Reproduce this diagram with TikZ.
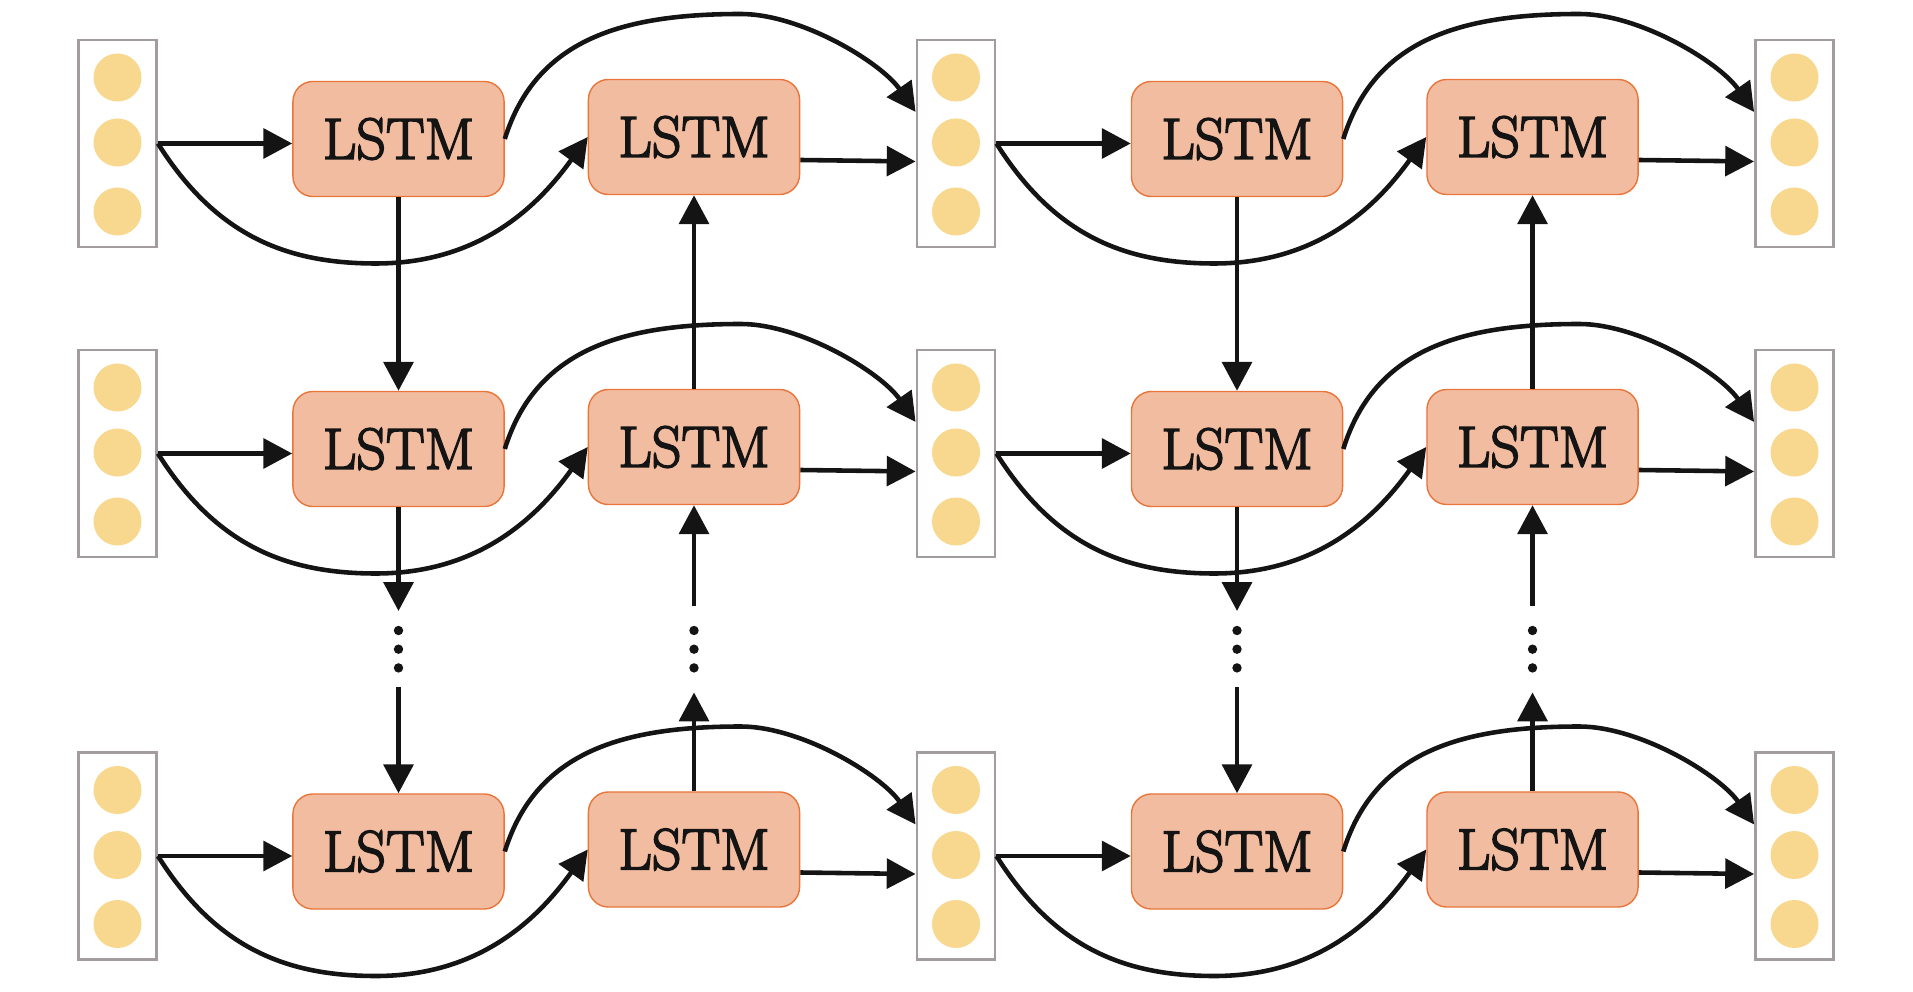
\documentclass[tikz,border=0pt]{standalone}
\usepackage{fontspec}
\newfontfamily\lstmfont{lmroman17-regular.otf}[FakeBold=3]
\usetikzlibrary{arrows.meta,calc}
\definecolor{circ}{HTML}{F8D78E}
\definecolor{lstmfill}{HTML}{F2BCA0}
\definecolor{lstmdraw}{HTML}{E8763A}
\definecolor{vecdraw}{HTML}{A39C9C}
\definecolor{ink}{HTML}{141414}
\tikzset{
  lstm/.style={draw=lstmdraw, fill=lstmfill, rounded corners=0.2cm, minimum width=2.11cm, minimum height=1.15cm, inner sep=0pt, line width=0.4pt, font=\lstmfont\fontsize{16.5}{20}\selectfont, text=ink},
  vecbox/.style={draw=vecdraw, line width=0.8pt, minimum width=0.78cm, minimum height=2.07cm, inner sep=0pt},
  unit/.style={circle, fill=circ, minimum size=0.48cm, inner sep=0pt},
  arr/.style={draw=ink, line width=1.3pt, -{Triangle[length=8.2pt,width=8.4pt]}},
  dotcol/.style={inner sep=0pt, minimum width=0.1cm},
}
\begin{document}
\begin{tikzpicture}[x=0.01cm, y=-0.01cm]
\useasboundingbox (0,0) rectangle (1913,992);
% vectors and LSTM cells
\foreach \r/\y in {1/143.5, 2/453.5, 3/856} {
  \foreach \c/\x in {0/117.5, 1/956, 2/1794.5} {
    \node[vecbox] (v\c\r) at (\x,\y) {};
    \node[unit] (u\c\r a) at (\x,\y-66) {};
    \node[unit] (u\c\r b) at (\x,\y-1) {};
    \node[unit] (u\c\r c) at (\x,\y+68) {};
  }
  \foreach \h/\xa/\xb in {0/398.5/694, 1/1237/1532.5} {
    \node[lstm] (a\h\r) at (\xa,\y-4.5) {LSTM};
    \node[lstm] (b\h\r) at (\xb,\y-6.5) {LSTM};
  }
}
% horizontal connections
\foreach \r in {1,2,3} {
  \foreach \h in {0,1} {
    \pgfmathtruncatemacro\nx{\h+1}
    \draw[arr] (v\h\r.east) -- (v\h\r.east -| a\h\r.west);
    \draw[arr] (v\h\r.east) .. controls ($(v\h\r.east)+(58,92)$) and ($(v\h\r.east)+(128,120)$) .. ($(v\h\r.east)+(218,120)$)
      .. controls ($(v\h\r.east)+(323,120)$) and ($(b\h\r.west)+(-49,68)$) .. (b\h\r.west);
    \draw[arr] (a\h\r.east) .. controls ($(a\h\r.east)+(31,-99)$) and ($(a\h\r.east)+(116,-125)$) .. ($(a\h\r.east)+(236,-125)$)
      .. controls ($(a\h\r.east)+(296,-125)$) and ($(v\nx\r.west)+(-35,-81.5)$) .. ($(v\nx\r.west)+(0,-31.5)$);
    \draw[arr] ($(b\h\r.east)+(0,23)$) -- ($(v\nx\r.west)+(0,18)$);
  }
}
% vertical connections
\foreach \h/\xa/\xb in {0/398.5/694, 1/1237/1532.5} {
  \node[dotcol, minimum height=0.75cm] (da\h) at (\xa,649.2) {};
  \node[dotcol, minimum height=0.85cm] (db\h) at (\xb,649.2) {};
  \foreach \n in {da\h, db\h} {
    \fill[ink] (\n.center) ++(0,-18.7) circle[radius=0.047cm];
    \fill[ink] (\n.center) circle[radius=0.047cm];
    \fill[ink] (\n.center) ++(0,18.7) circle[radius=0.047cm];
  }
  \draw[arr] (a\h1.south) -- (a\h2.north);
  \draw[arr] (b\h2.north) -- (b\h1.south);
  \draw[arr] (a\h2.south) -- (da\h.north);
  \draw[arr] (da\h.south) -- (a\h3.north);
  \draw[arr] (b\h3.north) -- (db\h.south);
  \draw[arr] (db\h.north) -- (b\h2.south);
}
\end{tikzpicture}
\end{document}
